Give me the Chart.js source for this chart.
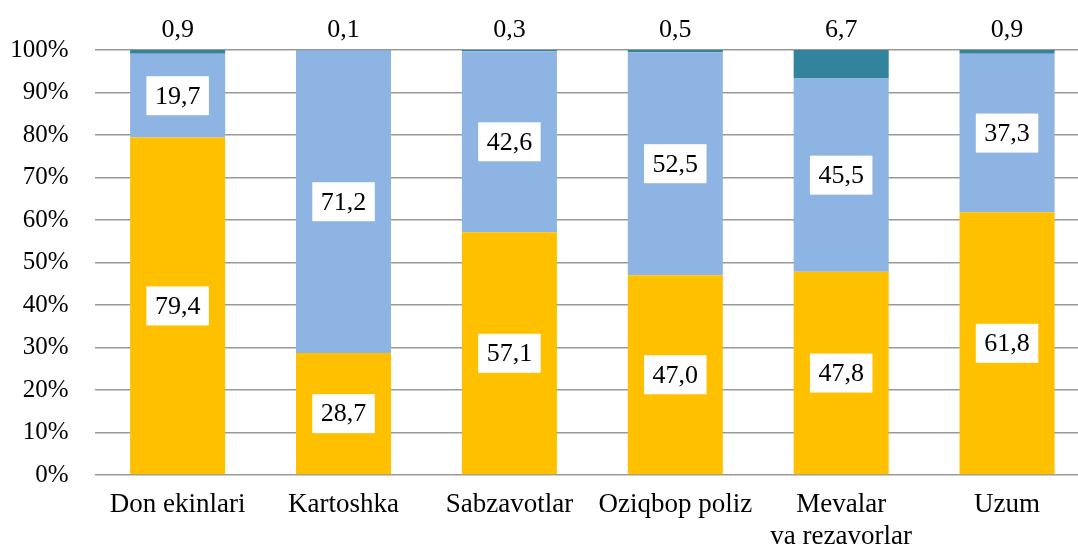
<!DOCTYPE html>
<html>
<head>
<meta charset="utf-8">
<script src="https://cdn.jsdelivr.net/npm/chart.js@4/dist/chart.umd.min.js"></script>
<style>
  html, body { margin: 0; padding: 0; background: #fff; overflow: hidden; }
  #wrap { width: 1090px; height: 548px; position: relative; }
</style>
</head>
<body>
<div id="wrap"><canvas id="chart_crops"></canvas></div>
<script>
const categories = ['Don ekinlari', 'Kartoshka', 'Sabzavotlar', 'Oziqbop poliz', ['Mevalar', 'va rezavorlar'], 'Uzum'];
const seriesYellow = [79.4, 28.7, 57.1, 47.0, 47.8, 61.8];
const seriesBlue = [19.7, 71.2, 42.6, 52.5, 45.5, 37.3];
const seriesTeal = [0.9, 0.1, 0.3, 0.5, 6.7, 0.9];
const yTicks = [0, 10, 20, 30, 40, 50, 60, 70, 80, 90, 100];

const fontFamily = '"Liberation Serif", "Times New Roman", serif';
const fmt = v => v.toFixed(1).replace('.', ',');

// value labels: boxed inside the lower two segments, plain above the bar for the top one
const labelPlugin = {
    id: 'valueLabels',
    afterDatasetsDraw(chart) {
        const ctx = chart.ctx;
        ctx.save();
        ctx.font = '26px ' + fontFamily;
        ctx.textAlign = 'center';
        ctx.textBaseline = 'middle';
        chart.data.datasets.forEach((ds, di) => {
            const meta = chart.getDatasetMeta(di);
            meta.data.forEach((bar, i) => {
                const txt = fmt(ds.data[i]);
                if (di === 2) {
                    ctx.fillStyle = '#000';
                    ctx.fillText(txt, bar.x, bar.y - 20);
                    return;
                }
                const cy = (bar.y + bar.base) / 2;
                const w = ctx.measureText(txt).width + 17;
                const h = 39;
                ctx.fillStyle = '#fff';
                ctx.fillRect(bar.x - w / 2, cy - h / 2, w, h);
                ctx.fillStyle = '#000';
                ctx.fillText(txt, bar.x, cy + 1);
            });
        });
        ctx.restore();
    }
};

new Chart(document.getElementById('chart_crops'), {
    type: 'bar',
    data: {
        labels: categories,
        datasets: [
            { label: 'a', data: seriesYellow, backgroundColor: '#FFC000' },
            { label: 'b', data: seriesBlue, backgroundColor: '#8EB4E3' },
            { label: 'c', data: seriesTeal, backgroundColor: '#31849B' }
        ]
    },
    options: {
        responsive: true,
        maintainAspectRatio: false,
        animation: false,
        devicePixelRatio: 1,
        layout: { padding: { top: 50, right: 0, left: 0, bottom: 0 } },
        datasets: { bar: { barPercentage: 0.573, categoryPercentage: 1 } },
        plugins: { legend: { display: false }, tooltip: { enabled: false } },
        scales: {
            x: {
                stacked: true,
                grid: { display: false, drawTicks: false },
                border: { display: false },
                ticks: {
                    color: '#000',
                    padding: 14,
                    maxRotation: 0,
                    font: { family: fontFamily, size: 27, lineHeight: 1.19 }
                },
                afterFit: scale => { scale.height = 73; }
            },
            y: {
                stacked: true,
                min: 0,
                max: 100,
                afterBuildTicks: scale => { scale.ticks = yTicks.map(v => ({ value: v })); },
                grid: { color: '#999', lineWidth: 1.5, drawTicks: false },
                border: { display: false },
                ticks: {
                    color: '#000',
                    padding: 26,
                    font: { family: fontFamily, size: 25 },
                    callback: v => v + '%'
                },
                afterFit: scale => { scale.width = 94.7; }
            }
        }
    },
    plugins: [labelPlugin]
});
</script>
</body>
</html>
